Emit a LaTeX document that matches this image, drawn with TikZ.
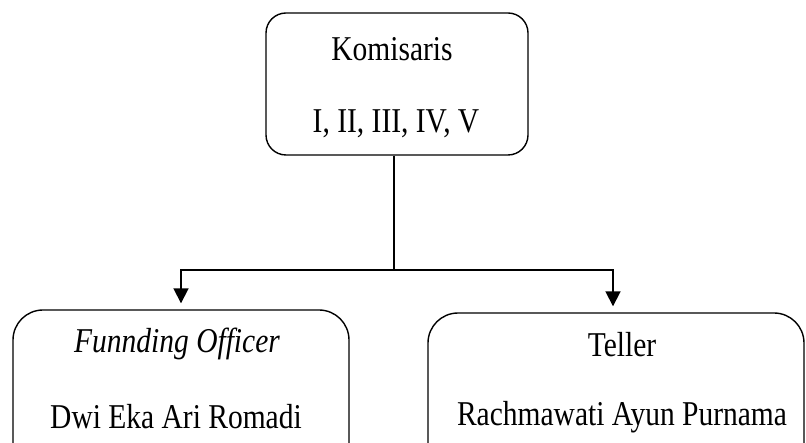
\documentclass[tikz,border=0pt]{standalone}
\usepackage{fontspec}
\setmainfont{Liberation Serif}
\usetikzlibrary{arrows.meta}
\newcommand{\tallt}[1]{\scalebox{1}[1.18]{#1}}
\begin{document}
\begin{tikzpicture}[x=1pt,y=-1pt,
  box/.style={draw=black,line width=1.4pt,fill=white,rectangle,inner sep=0pt},
  lbl/.style={inner sep=0pt,font=\fontsize{29.5}{34}\selectfont},
  conn/.style={draw=black,line width=1.8pt},
  arr/.style={conn,-{Triangle[width=15pt,length=15pt]},shorten >=6pt}]
\useasboundingbox (0,0) rectangle (806,443);
\node[box,rounded corners=20pt,minimum width=262pt,minimum height=142pt] (top) at (397,84) {};
\node[box,rounded corners=30pt,minimum width=336pt,minimum height=170pt] (lb) at (181,395) {};
\node[box,rounded corners=30pt,minimum width=376pt,minimum height=170pt] (rb) at (616,398) {};
\node[lbl] (t1) at (392,49) {\tallt{Komisaris}};
\node[lbl] (t2) at (396,124) {\tallt{I, II, III, IV, V}};
\node[lbl] (l1) at (177,344) {\tallt{\itshape Funnding Officer}};
\node[lbl] (l2) at (176,417) {\tallt{Dwi Eka Ari Romadi}};
\node[lbl] (r1) at (622,345) {\tallt{Teller}};
\node[lbl] (r2) at (622,417) {\tallt{Rachmawati Ayun Purnama}};
\coordinate (j) at (394,270);
\draw[conn] (top.south -| j) -- (j);
\draw[arr] (j) -| (lb.north);
\draw[arr] (j) -| ([xshift=-3pt]rb.north);
\end{tikzpicture}
\end{document}
